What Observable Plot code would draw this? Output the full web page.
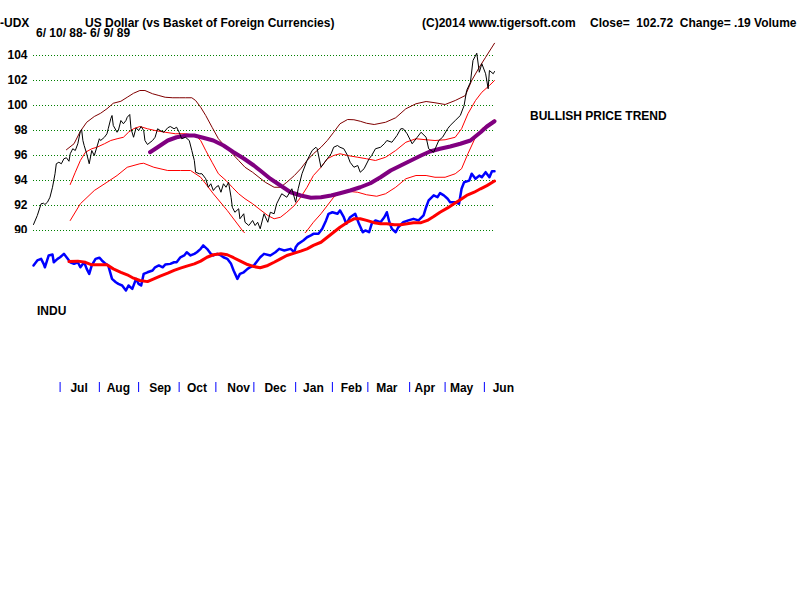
<!DOCTYPE html>
<html>
<head>
<meta charset="utf-8">
<script src="https://cdn.jsdelivr.net/npm/d3@7"></script>
<script src="https://cdn.jsdelivr.net/npm/@observablehq/plot@0.6"></script>
<style>
  html, body { margin: 0; padding: 0; background: #fff; }
  #wrap { position: relative; width: 800px; height: 600px; overflow: hidden; background: #fff; }
  #wrap > svg { position: absolute; left: 0; top: 0; }
  .t { position: absolute; font-family: "Liberation Sans", Arial, sans-serif; font-weight: bold; font-size: 12px; line-height: 10px; white-space: pre; color: #000; }
</style>
</head>
<body>
<div id="wrap"></div>
<script>
// ---- data (day offsets from 6/10/88) ----
const startDate = "1988-06-10";
const endDay = 364;

const udxDay = [0,3,6,8,9,11,13,15,17,18,20,22,24,26,28,29,31,33,35,37,38,39,40,42,44,46,48,50,52,53,56,58,59,61,62,63,66,67,69,71,73,74,76,77,79,81,83,85,87,88,90,94,96,98,100,103,106,108,111,113,115,117,120,123,125,127,128,131,133,136,138,140,142,144,146,148,150,152,154,156,157,159,162,163,166,167,170,173,175,177,179,182,185,187,190,192,196,200,204,207,209,212,216,220,223,224,227,229,232,235,237,240,242,245,248,250,253,256,258,261,265,267,270,274,277,279,283,287,290,292,295,299,303,306,310,312,316,320,323,327,329,333,337,340,342,345,347,350,352,354,357,359,360,363,364];
const udxClose = [90.48,91.2,92.14,92.18,92.08,92.26,92.66,93.46,94.54,95.34,95.46,95.34,95.74,95.82,95.54,96.14,96.54,96.4,96.94,97.94,98.06,97.2,96.8,96.14,95.34,96.4,96.0,96.66,97.34,97.2,97.46,97.74,98.14,98.94,99.2,98.4,97.86,98.0,98.8,98.54,98.8,99.06,99.28,98.14,97.46,98.22,98.0,98.32,98.0,97.2,96.88,97.2,97.46,98.14,98.0,97.86,98.22,98.32,98.14,98.26,97.86,97.34,97.46,97.2,96.4,95.6,94.66,94.54,94.54,94.14,93.46,93.74,93.2,93.46,93.6,93.06,93.74,93.46,93.86,92.66,91.86,91.46,91.74,90.94,91.34,90.66,90.4,90.8,90.4,90.66,90.14,91.34,90.66,91.46,91.34,92.14,92.94,92.66,93.34,92.26,93.34,94.54,95.6,96.4,96.66,96.54,95.06,95.34,95.74,96.14,96.66,96.8,96.66,96.54,96.0,95.46,95.06,95.2,94.66,94.94,95.74,96.0,96.54,96.66,96.94,97.2,97.06,97.6,98.14,98.14,97.74,96.94,97.46,97.86,97.46,96.54,96.26,97.2,97.46,98.14,98.4,98.8,99.2,100.0,101.2,101.86,103.6,104.18,102.66,103.34,102.54,101.34,102.8,102.54,102.72];

const upperDay = [26,32,37,42,48,53,58,63,69,74,79,84,88,94,99,104,110,115,120,125,128,132,136,141,146,152,157,162,167,173,178,183,190,195,200,206,211,216,221,227,232,237,242,248,253,258,263,269,278,286,294,302,310,317,325,333,341,346,352,357,364];
const upperBand = [96.46,96.94,97.94,98.66,99.12,99.38,99.74,100.18,100.34,100.66,100.98,101.2,101.2,100.94,100.8,100.66,100.62,100.62,100.62,100.62,100.4,99.86,99.2,98.26,97.34,96.66,96.14,95.6,95.06,94.66,94.26,93.86,93.46,93.46,93.86,94.4,94.94,95.6,96.14,96.66,97.2,97.86,98.54,98.88,98.86,98.74,98.58,98.48,98.66,99.02,99.74,100.14,100.32,100.22,100.08,100.4,100.8,102.0,103.06,103.86,104.98];

const midDay = [29,33,37,41,46,50,56,61,66,71,75,79,84,90,96,104,112,120,128,132,136,141,146,152,157,162,167,173,178,185,190,195,200,206,211,216,221,227,232,237,242,248,256,263,270,278,286,294,302,310,317,325,333,338,343,349,354,360,364];
const midBand = [93.68,94.66,95.6,96.26,96.54,96.66,96.94,97.2,97.34,97.46,97.86,98.14,98.32,98.14,98.0,97.86,97.74,97.74,97.6,97.2,96.4,95.46,94.54,94.0,93.46,92.94,92.54,92.14,91.74,91.2,90.94,91.06,91.46,92.0,92.66,93.46,94.4,95.06,95.74,96.0,96.14,96.0,95.86,95.74,95.6,95.86,96.4,97.06,97.34,97.26,97.2,97.26,97.46,98.14,99.34,100.4,101.06,101.6,102.0];

const lowerDay = [29,37,48,58,66,74,84,87,95,106,116,124,132,142,153,166,180,195,205,215,221,227,232,237,242,248,256,263,271,278,286,294,302,310,317,325,333,338,343,349,354,360,364];
const lowerBand = [90.8,92.14,93.2,93.86,94.4,95.06,95.34,95.38,95.06,94.8,94.8,94.8,94.26,92.94,91.6,89.86,88.8,88.5,89.0,89.86,90.66,91.34,92.0,92.66,93.06,93.14,93.06,92.86,92.74,92.94,93.46,94.14,94.4,94.4,94.26,94.26,94.54,94.94,96.14,97.46,98.14,98.58,98.86];

const maDay = [92,98,106,113,121,127,134,142,150,158,166,174,179,187,195,203,211,219,227,235,242,250,258,266,274,282,290,298,306,313,321,329,337,345,353,358,364];
const maValue = [96.26,96.66,97.2,97.46,97.6,97.6,97.42,97.2,96.8,96.26,95.76,95.2,94.8,94.14,93.6,93.06,92.8,92.62,92.66,92.8,92.98,93.2,93.46,93.78,94.26,94.8,95.2,95.6,96.0,96.32,96.54,96.72,96.94,97.2,97.86,98.32,98.74];

const induDay = [0,3,6,8,9,12,15,16,19,21,24,27,29,32,35,37,40,42,44,46,49,52,54,57,59,62,65,67,70,73,75,78,81,83,85,87,90,94,96,99,102,104,108,111,113,116,119,121,124,127,129,132,134,137,140,142,145,148,150,153,156,158,161,163,166,169,171,174,177,179,182,187,191,194,198,203,206,207,209,213,216,219,221,225,228,231,233,236,240,242,245,247,250,254,257,260,262,265,267,270,274,277,279,281,283,286,288,292,296,300,304,308,310,312,316,319,321,324,327,329,333,336,338,340,344,346,349,352,354,357,360,362,364];
const induValue = [2087,2109,2116,2094,2079,2131,2135,2101,2116,2123,2138,2116,2101,2094,2101,2079,2101,2072,2050,2087,2116,2121,2109,2094,2087,2028,2013,2006,1999,1977,1999,1984,2028,2006,1999,2050,2057,2065,2079,2087,2079,2091,2094,2101,2101,2123,2131,2145,2131,2138,2145,2160,2175,2160,2138,2131,2138,2131,2123,2116,2094,2065,2028,2050,2057,2072,2079,2087,2109,2123,2138,2131,2145,2160,2153,2160,2145,2167,2182,2197,2211,2219,2226,2226,2248,2285,2314,2321,2314,2329,2299,2270,2299,2314,2270,2233,2241,2233,2270,2285,2277,2299,2321,2277,2248,2233,2255,2277,2285,2292,2285,2307,2343,2373,2395,2387,2405,2395,2380,2365,2365,2358,2424,2453,2460,2490,2468,2482,2475,2497,2475,2501,2501];

const induMaDay = [28,35,41,46,53,58,63,69,74,79,84,90,95,100,106,111,116,121,127,132,137,142,148,153,158,163,169,174,179,185,190,195,200,206,211,216,221,227,232,237,242,248,253,258,263,269,274,279,285,290,295,300,306,311,316,321,327,332,337,342,348,353,358,364];
const induMaValue = [2104,2106,2101,2090,2090,2090,2072,2057,2046,2031,2021,2016,2028,2040,2053,2065,2075,2084,2094,2106,2123,2134,2138,2134,2121,2107,2091,2082,2077,2087,2101,2116,2131,2141,2150,2160,2175,2189,2211,2233,2255,2277,2292,2292,2285,2275,2270,2270,2266,2266,2270,2275,2275,2285,2302,2321,2340,2358,2376,2395,2409,2424,2438,2458];

const yTicks = [90,92,94,96,98,100,102,104];
const monthStarts = ["1988-07-01","1988-08-01","1988-09-01","1988-10-03","1988-11-01","1988-12-01","1989-01-03","1989-02-01","1989-03-01","1989-04-03","1989-05-01","1989-06-01"];
const monthLabelDates = ["1988-07-16","1988-08-16","1988-09-18","1988-10-17","1988-11-19","1988-12-18","1989-01-17","1989-02-16","1989-03-16","1989-04-15","1989-05-14","1989-06-16"];
const monthNames = ["Jul","Aug","Sep","Oct","Nov","Dec","Jan","Feb","Mar","Apr","May","Jun"];

// ---- helpers ----
const start = new Date(startDate);
const day = d => d3.utcDay.offset(start, d);
const rows = (days, vals) => days.map((d, i) => ({date: day(d), value: vals[i]}));
const xScale = {type: "utc", domain: [start, day(endDay)], range: [33, 494]};
const font = {fontFamily: "'Liberation Sans', Arial, sans-serif", fontSize: "12px", fontWeight: "bold"};

const wrap = document.getElementById("wrap");

// ---- upper panel: US Dollar index ----
const main = Plot.plot({
  width: 800, height: 233,
  marginLeft: 33, marginRight: 306, marginTop: 30, marginBottom: 3,
  x: {...xScale, axis: null},
  y: {domain: [90, 104], range: [230, 55]},
  style: {...font, overflow: "hidden", background: "white"},
  marks: [
    Plot.ruleY(yTicks, {stroke: "#008000", strokeDasharray: "1,2", strokeWidth: 1}),
    Plot.axisY({ticks: yTicks, tickSize: 0, tickPadding: 6, label: null, fill: "#000"}),
    Plot.line(rows(lowerDay, lowerBand), {x: "date", y: "value", stroke: "#ff0000", strokeWidth: 1}),
    Plot.line(rows(midDay, midBand), {x: "date", y: "value", stroke: "#ff0000", strokeWidth: 1}),
    Plot.line(rows(upperDay, upperBand), {x: "date", y: "value", stroke: "#800000", strokeWidth: 1}),
    Plot.line(rows(maDay, maValue), {x: "date", y: "value", stroke: "#800080", strokeWidth: 4}),
    Plot.line(rows(udxDay, udxClose), {x: "date", y: "value", stroke: "#000", strokeWidth: 1})
  ]
});
wrap.appendChild(main);

// ---- lower overlay: INDU + month axis ----
const lower = Plot.plot({
  width: 800, height: 600,
  marginLeft: 33, marginRight: 306, marginTop: 0, marginBottom: 218,
  x: xScale,
  y: {domain: [2000, 2500], range: [284.75, 171], axis: null},
  style: {...font, background: "transparent"},
  marks: [
    Plot.line(rows(induDay, induValue), {x: "date", y: "value", stroke: "#0000ff", strokeWidth: 2.5}),
    Plot.line(rows(induMaDay, induMaValue), {x: "date", y: "value", stroke: "#ff0000", strokeWidth: 3}),
    Plot.axisX({ticks: monthStarts.map(s => new Date(s)), tickSize: 10, stroke: "#0000ff", tickFormat: () => "", label: null}),
    Plot.text(monthNames, {x: (d, i) => new Date(monthLabelDates[i]), text: d => d, frameAnchor: "bottom", lineAnchor: "top", dy: 1, fill: "#000"})
  ]
});
wrap.appendChild(lower);

// ---- text labels ----
const labels = [
  {text: "-UDX", left: 0, top: 18},
  {text: "US Dollar (vs Basket of Foreign Currencies)", left: 85, top: 18},
  {text: "6/ 10/ 88- 6/ 9/ 89", left: 36, top: 28},
  {text: "(C)2014 www.tigersoft.com", left: 422, top: 18},
  {text: "Close=  102.72  Change= .19 Volume", left: 590, top: 18},
  {text: "BULLISH PRICE TREND", left: 530, top: 111},
  {text: "INDU", left: 37, top: 306}
];
for (const l of labels) {
  const div = document.createElement("div");
  div.className = "t";
  div.textContent = l.text;
  div.style.left = l.left + "px";
  div.style.top = l.top + "px";
  wrap.appendChild(div);
}
</script>
</body>
</html>
